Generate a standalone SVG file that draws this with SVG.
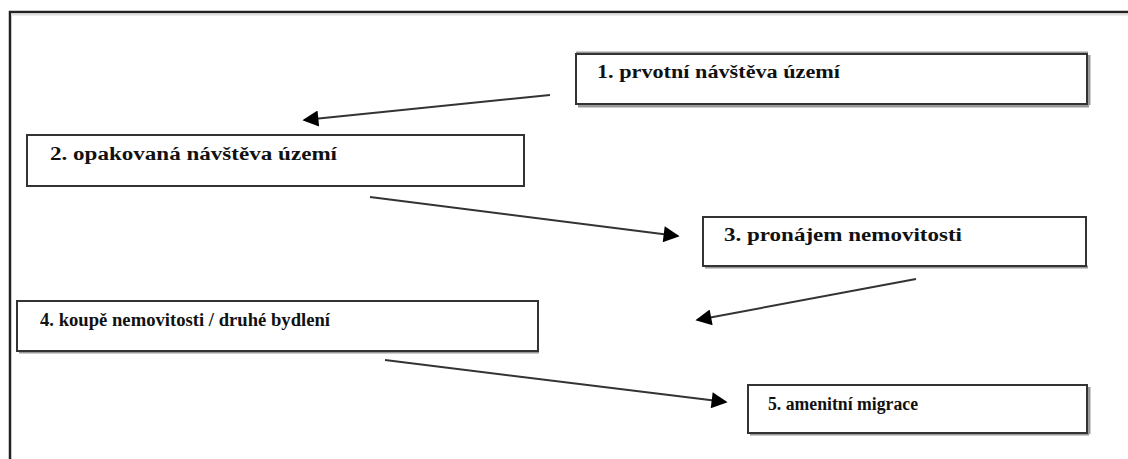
<svg xmlns="http://www.w3.org/2000/svg" width="1128" height="459" viewBox="0 0 1128 459">
<style>
.box{fill:#fff;stroke:#333;stroke-width:2}
.shadow{fill:none;stroke:#999;stroke-width:3}
.lbl{font-family:"Liberation Serif","DejaVu Serif","Times New Roman",serif;font-weight:bold;font-size:18px;fill:#111}
.conn{stroke:#333;stroke-width:2;fill:none}
</style>
<defs>
<marker id="ah" viewBox="0 0 10 10" refX="9" refY="5" markerWidth="10" markerHeight="8" markerUnits="strokeWidth" orient="auto">
<path d="M0,0 L10,5 L0,10 z" fill="#000"/>
</marker>
</defs>
<rect width="1128" height="459" fill="#fff"/>
<g id="frame">
<path d="M10,459 V12 H1128" fill="none" stroke="#222" stroke-width="2.5"/>
<line x1="11" y1="14.5" x2="1128" y2="14.5" stroke="#ddd" stroke-width="2"/>
</g>
<g id="node1">
<path class="shadow" d="M576,53 H1088 M1089,55 V105 M578,106 H1089"/>
<rect class="box" x="576" y="54" width="511" height="50"/>
<text class="lbl" x="597" y="78" textLength="243" lengthAdjust="spacingAndGlyphs">1. prvotní návštěva území</text>
</g>
<g id="node2">
<rect class="box" x="27" y="135" width="497" height="51"/>
<text class="lbl" x="50" y="160" textLength="287" lengthAdjust="spacingAndGlyphs">2. opakovaná návštěva území</text>
</g>
<g id="node3">
<path class="shadow" d="M705,267 H1088"/>
<rect class="box" x="703" y="217" width="383" height="49"/>
<text class="lbl" x="724" y="241" textLength="238" lengthAdjust="spacingAndGlyphs">3. pronájem nemovitosti</text>
</g>
<g id="node4">
<path class="shadow" d="M19,352 H539"/>
<rect class="box" x="17" y="301" width="521" height="50"/>
<text class="lbl" x="40" y="326" textLength="290" lengthAdjust="spacingAndGlyphs">4. koupě nemovitosti / druhé bydlení</text>
</g>
<g id="node5">
<path class="shadow" d="M750,434 H1089 M1089,387 V434"/>
<rect class="box" x="748" y="385" width="339" height="48"/>
<text class="lbl" x="768" y="410" textLength="150" lengthAdjust="spacingAndGlyphs">5. amenitní migrace</text>
</g>
<g id="connectors">
<line class="conn" x1="550" y1="95" x2="304" y2="120" marker-end="url(#ah)"/>
<line class="conn" x1="370" y1="197" x2="678" y2="236" marker-end="url(#ah)"/>
<line class="conn" x1="916" y1="279" x2="697" y2="320" marker-end="url(#ah)"/>
<line class="conn" x1="385" y1="360" x2="726" y2="402" marker-end="url(#ah)"/>
</g>
</svg>
